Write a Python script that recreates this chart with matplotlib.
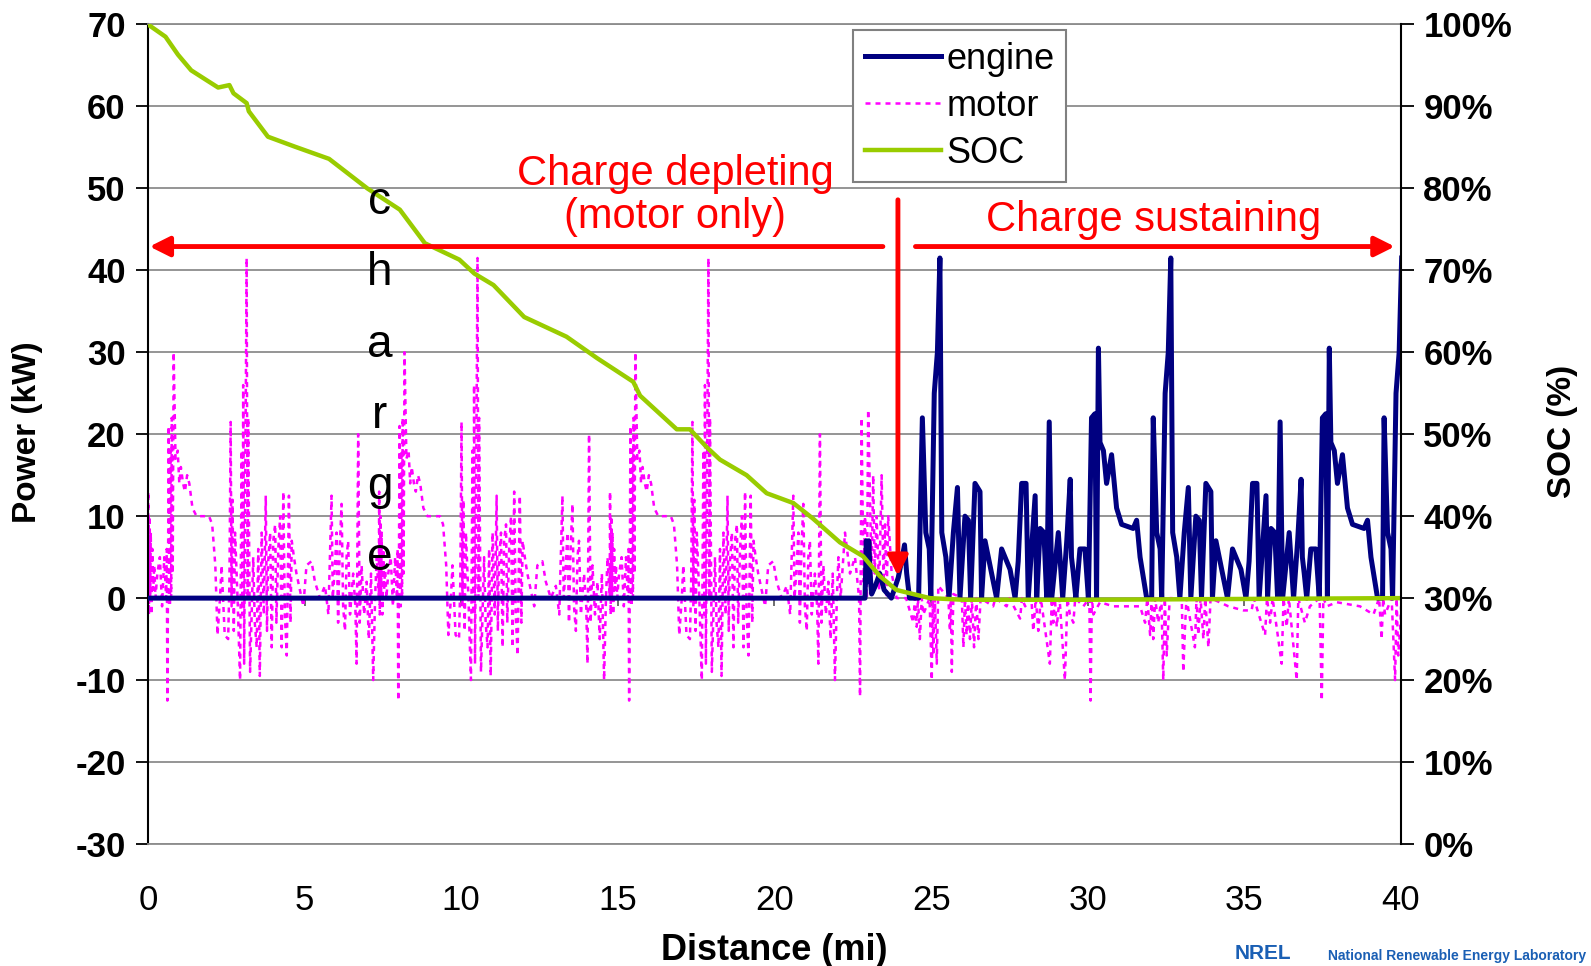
import matplotlib
matplotlib.use("Agg")
import matplotlib.pyplot as plt
import numpy as np

plt.rcParams['font.family'] = ['Liberation Sans', 'DejaVu Sans']

# one UDDS cycle (mi) - the trace repeats every cycle
cycle_len = 7.37

# motor power over one charge-depleting cycle (distance inside cycle, kW)
cd_rel = [0.00, 0.01, 0.03, 0.05, 0.07, 0.09, 0.11, 0.14, 0.17, 0.20,
          0.24, 0.30, 0.38, 0.45, 0.52, 0.58, 0.60, 0.62, 0.64, 0.66,
          0.70, 0.72, 0.74, 0.76, 0.79, 0.82, 0.88, 0.95, 1.00, 1.05,
          1.12, 1.18, 1.25, 1.32, 1.42, 1.55, 1.75, 1.95, 2.05, 2.15,
          2.22, 2.30, 2.35, 2.45, 2.56, 2.60, 2.64, 2.67, 2.70, 2.74,
          2.78, 2.86, 2.94, 2.99, 3.02, 3.04, 3.07, 3.10, 3.15, 3.18,
          3.20, 3.26, 3.36, 3.41, 3.47, 3.52, 3.57, 3.63, 3.70, 3.76,
          3.80, 3.83, 3.90, 3.95, 4.00, 4.06, 4.10, 4.16, 4.22, 4.27,
          4.32, 4.37, 4.43, 4.50, 4.55, 4.59, 4.66, 4.74, 4.96, 5.06,
          5.22, 5.33, 5.49, 5.65, 5.76, 5.86, 5.90, 5.97, 6.02, 6.07,
          6.12, 6.18, 6.23, 6.29, 6.34, 6.39, 6.45, 6.55, 6.62, 6.66,
          6.71, 6.76, 6.82, 6.90, 6.98, 7.05, 7.12, 7.19, 7.25, 7.30]
cd_motor = [0, 13, -2, 10, 0, 8, -2, 6, 1, 4,
            0, 3, 5, -1, 5, 0, 6, -12.5, 2, 21,
            -1, 18, 0, 22, 3, 30, 17, 18, 14, 16,
            14, 13, 15, 14, 11, 10, 10, 10, 9, 4,
            -4.5, 0, 4, -4.5, -5, 2, 21.5, -1, 12, -4,
            8, 0, -10, 18, -2, 26, -8, 10, 41.5, 0,
            22, -9, 5, -3, -6, 6, -9.5, 8, -2, 12.5,
            -4, 4, 8, -6, 7, 9, -3, 6, 10, -6,
            13, -2, -7, 12.5, -3, 7, 5, 3, -1, 4,
            4.5, 2, 0, 1.5, -2, 12.5, 0, 4, 8, -3,
            6, 11.5, -1, -4, 5, 7, -2, 3, -1, -8,
            20, -3, 4, -2, 2, -5, 3, -10, 0, 5]

# motor power from the last depleting cycle on (mi, kW)
cs_mi = [22.11, 22.25, 22.41, 22.57, 22.70, 22.73, 22.78, 22.84, 22.89, 22.95,
         22.99, 23.05, 23.10, 23.15, 23.20, 23.26, 23.34, 23.42, 23.48, 23.53,
         23.58, 23.63, 23.74, 23.90, 24.20, 24.43, 24.48, 24.54, 24.58, 24.64,
         24.70, 24.75, 24.95, 25.02, 25.05, 25.07, 25.12, 25.18, 25.23, 25.55,
         25.60, 25.63, 25.66, 25.71, 25.98, 26.03, 26.08, 26.13, 26.18, 26.24,
         26.30, 26.37, 26.44, 26.51, 26.58, 26.98, 27.05, 27.41, 27.50, 27.84,
         27.90, 28.00, 28.20, 28.26, 28.34, 28.42, 28.50, 28.79, 28.85, 28.90,
         28.95, 29.01, 29.10, 29.27, 29.35, 29.43, 29.54, 29.60, 29.86, 30.05,
         30.09, 30.13, 30.18, 30.39, 30.82, 31.24, 31.67, 31.83, 31.90, 31.99,
         32.04, 32.09, 32.15, 32.25, 32.35, 32.41, 32.46, 32.52, 32.57, 32.62,
         33.00, 33.05, 33.10, 33.15, 33.42, 33.47, 33.53, 33.60, 33.69, 33.75,
         33.85, 33.92, 34.49, 34.97, 35.23, 35.30, 35.66, 35.72, 35.82, 35.90,
         36.19, 36.25, 36.35, 36.42, 36.67, 36.72, 36.93, 37.09, 37.40, 37.47,
         37.52, 37.63, 37.95, 38.69, 39.12, 39.30, 39.38, 39.43, 39.49, 39.70,
         39.81, 39.86, 39.91, 39.97, 40.00]
cs_motor = [0, 8, 3, 5, 0, -12, 22, 2, 10, 0,
            23, 12, 2, 15, 3, 10, 1, 15, 2, 9,
            0, 10, 3, 0, 0, -3, 0, -3.5, 0, -5,
            0, -2, 0, -10, 0, -7, 0, -8, 1.5, 0,
            -4, 0, -9, 0.5, 0, -6, 0, -4.5, 0, -5,
            0, -6, 0, -5, 0, -1, 0, -1, 0, -2.5,
            0, -1, 0, -4, 0, -4, 0, -8, 0, -3,
            0, -3.5, 0, -10, 0, -2, -3, 0, -1, 0,
            -12.5, 0, -2, -0.5, -1, -1, -1, -3, 0, -4.5,
            0, -5, 0, -3, 0, -10, 0, -7, -3, 0,
            0, -9, -4, 0, -6, 0, -4.5, 0, -5, 0,
            -6, 0, -1, -1.5, -1.5, 0, -4.5, 0, -3, 0,
            -8, 0, -3.5, 0, -10, 0, -3, -1, 0, -12.5,
            0, -1, -0.5, -1, -2, 0, -5, 0, -2, 0,
            -10, 0, -7, -4, -1]

# engine power while it starts up (mi, kW)
start_mi = [0.0, 22.89, 22.93, 22.97, 23.01, 23.05, 23.10, 23.22, 23.36, 23.50,
            23.73, 23.95, 24.08, 24.15, 24.22, 24.31, 24.60]
start_engine = [0, 0, 7, 2, 7, 3, 0.5, 1.5, 3, 1,
                0, 2.5, 5, 6.5, 3, 0, 0]

# engine power over one charge-sustaining cycle (distance inside cycle, kW)
cs_rel = [0.00, 0.06, 0.14, 0.27, 0.43, 0.54, 0.64, 0.75, 0.80, 0.86,
          0.91, 1.02, 1.12, 1.28, 1.44, 1.60, 1.97, 2.08, 2.19, 2.40,
          2.56, 2.61, 2.72, 2.83, 2.88, 2.99, 3.09, 3.17, 3.23, 3.36,
          3.46, 3.60, 3.73, 3.81, 3.97, 4.08, 4.15, 4.29, 4.45, 4.50,
          4.61, 4.93, 4.98, 5.14, 5.41, 5.57, 5.67, 5.78, 5.92, 5.99,
          6.21, 6.26, 6.37, 6.49, 6.58, 6.66, 6.74, 6.95, 7.09, 7.22,
          7.33]
cs_engine = [5, 3, 0, 6, 6, 0, 22, 22.5, 0, 30.5,
             19, 18, 14, 17.5, 11, 9, 8.5, 9.5, 5, 0,
             0, 22, 8, 6, 0, 25, 30, 41.5, 8, 5,
             0, 8, 13.5, 0, 10, 9.5, 0, 14, 13, 0,
             7, 1, 0, 6, 3.5, 0, 4.5, 14, 14, 0,
             12.5, 0, 8.5, 8, 0, 21.5, 0, 8, 0, 7,
             14.5]

# battery state of charge
soc_mi = [0, 0.56, 0.96, 1.38, 1.87, 2.24, 2.60, 2.73, 3.15, 3.22,
          3.83, 4.68, 5.78, 7.00, 8.04, 8.84, 9.94, 10.42, 11.03, 12.01,
          13.36, 14.33, 15.49, 15.71, 16.88, 17.30, 17.84, 18.26, 19.11, 19.75,
          20.60, 21.23, 22.09, 22.83, 23.36, 23.89, 24.96, 26.02, 30, 35,
          40]
soc_pct = [100, 98.5, 96.3, 94.4, 93.2, 92.3, 92.6, 91.6, 90.4, 89.4,
           86.3, 85.1, 83.6, 80.0, 77.4, 73.3, 71.3, 69.6, 68.2, 64.3,
           61.9, 59.3, 56.4, 54.7, 50.6, 50.6, 48.4, 46.9, 45.0, 42.8,
           41.6, 39.7, 36.8, 35.1, 32.7, 31.0, 30.0, 29.8, 29.8, 29.9,
           30.0]

power_ticks = list(range(-30, 71, 10))
soc_ticks = [i / 10 for i in range(11)]
dist_ticks = list(range(0, 41, 5))

# put the repeated cycles end to end
cd_rel_a = np.array(cd_rel)
motor_x = np.concatenate([cd_rel_a + k * cycle_len for k in range(3)] + [cs_mi])
motor_y = np.concatenate([cd_motor] * 3 + [cs_motor])

cs_rel_a = np.array(cs_rel)
cs_engine_a = np.array(cs_engine)
first = cs_rel_a >= 2.6
last = cs_rel_a <= 3.17
engine_x = np.concatenate([start_mi, cs_rel_a[first] + 3 * cycle_len,
                           cs_rel_a + 4 * cycle_len, cs_rel_a[last] + 5 * cycle_len])
engine_y = np.concatenate([start_engine, cs_engine_a[first], cs_engine_a, cs_engine_a[last]])

fig, ax = plt.subplots(figsize=(15.91, 9.66), dpi=100)
fig.subplots_adjust(left=0.093, right=0.8806, top=0.9747, bottom=0.1263)

motor_line, = ax.plot(motor_x, motor_y, color='#ff00ff', lw=1.8, ls=(0, (2, 2)), zorder=2)
engine_line, = ax.plot(engine_x, engine_y, color='#000080', lw=3.6, zorder=3)

ax.set_xlim(0, 40)
ax.set_ylim(-30, 70)
ax.set_xticks(dist_ticks)
ax.set_yticks(power_ticks, [str(v) for v in power_ticks], fontweight='bold')
ax.grid(axis='y', color='#8c8c8c', lw=1.3)
ax.set_axisbelow(True)
ax.tick_params(axis='x', length=0, pad=29, labelsize=25)
ax.tick_params(axis='y', direction='out', length=9, width=1.3, pad=7, labelsize=25)
ax.spines['left'].set_color('black')
ax.spines['left'].set_linewidth(1.5)
ax.spines['right'].set_visible(False)
for s in ['top', 'bottom']:
    ax.spines[s].set_color('#8c8c8c')
    ax.spines[s].set_linewidth(1.3)

ax.set_xlabel('Distance (mi)', fontsize=26, fontweight='bold', va='center')
ax.xaxis.set_label_coords(0.4996, -0.1305)
ax.set_ylabel('Power (kW)', fontsize=24, fontweight='bold', va='center')
ax.yaxis.set_label_coords(-0.0958, 0.503)

# small distance ticks sitting on the zero-power line
sec = ax.secondary_xaxis(0.3)
sec.set_xticks(dist_ticks)
sec.xaxis.set_ticks_position('bottom')
sec.tick_params(direction='out', length=6, width=1.2, color='#555555',
                labelbottom=False, labeltop=False)
for s in sec.spines.values():
    s.set_visible(False)

ax2 = ax.twinx()
soc_line, = ax2.plot(soc_mi, np.array(soc_pct) / 100, color='#99cc00', lw=3.2)
ax2.set_ylim(0, 1)
ax2.set_yticks(soc_ticks, [f"{v:.0%}" for v in soc_ticks], fontweight='bold')
ax2.tick_params(axis='y', direction='out', length=9, width=1.3, pad=7, labelsize=25)
for s in ['top', 'bottom', 'left']:
    ax2.spines[s].set_visible(False)
ax2.spines['right'].set_color('black')
ax2.spines['right'].set_linewidth(1.5)
ax2.set_ylabel('SOC (%)', fontsize=24, fontweight='bold', va='center', rotation=90)
ax2.yaxis.set_label_coords(1.129, 0.503)

leg = ax2.legend([engine_line, motor_line, soc_line], ['engine', 'motor', 'SOC'],
                 loc='upper left', bbox_to_anchor=(0.563, 0.993), fontsize=26,
                 fancybox=False, framealpha=1, edgecolor='#808080',
                 handlelength=2.1, handletextpad=0.15, labelspacing=0.33,
                 borderpad=0.32, borderaxespad=0)
leg.get_frame().set_linewidth(1.5)

# red annotations
arrow = dict(arrowstyle='-|>', color='red', lw=3.5, mutation_scale=30, shrinkA=0, shrinkB=0)
ax2.annotate('', xy=(0.05, 42.9), xytext=(23.46, 42.9),
             xycoords=ax.transData, textcoords=ax.transData, arrowprops=arrow)
ax2.annotate('', xy=(39.8, 42.9), xytext=(24.5, 42.9),
             xycoords=ax.transData, textcoords=ax.transData, arrowprops=arrow)
ax2.annotate('', xy=(23.94, 2.7), xytext=(23.94, 48.6),
             xycoords=ax.transData, textcoords=ax.transData, arrowprops=arrow)
ax2.text(16.82, 49.1, 'Charge depleting\n(motor only)', transform=ax.transData,
         color='red', fontsize=30, ha='center', va='center', linespacing=1.1)
ax2.text(32.1, 46.1, 'Charge sustaining', transform=ax.transData,
         color='red', fontsize=30, ha='center', va='center')
ax2.text(7.39, 26.6, 'c\nh\na\nr\ng\ne', transform=ax.transData,
         color='black', fontsize=33, ha='center', va='center', linespacing=1.8)

# lab logo text at the lower right corner
fig.text(0.776, 0.003, 'NREL', color='#1a5fb4', fontsize=15, fontweight='bold', va='bottom')
fig.text(0.997, 0.003, 'National Renewable Energy Laboratory', color='#1a5fb4',
         fontsize=10, fontweight='bold', va='bottom', ha='right')

fig.savefig('out.png', dpi=100)
